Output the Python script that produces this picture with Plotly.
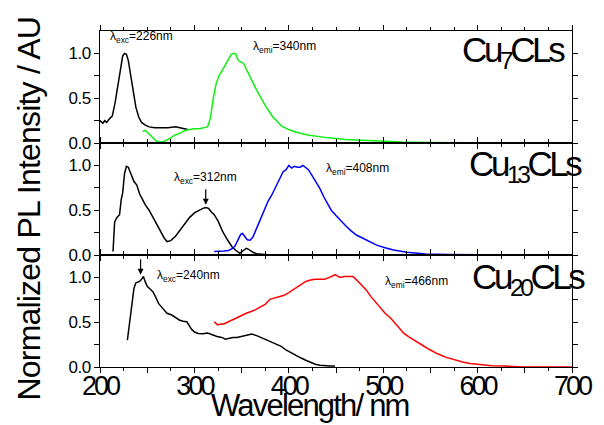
import plotly.graph_objects as go

# ---------------- data ----------------
cu7_exc_wl = [200, 203, 205, 207, 210, 213, 216, 219, 222, 224, 226, 228, 230, 232, 234, 236, 238, 241, 244, 248, 252, 258, 265, 272, 280, 286, 290, 293]
cu7_exc = [0.25, 0.22, 0.25, 0.23, 0.27, 0.30, 0.45, 0.65, 0.88, 0.97, 1.0, 0.99, 0.92, 0.78, 0.63, 0.50, 0.40, 0.29, 0.23, 0.20, 0.18, 0.17, 0.17, 0.17, 0.18, 0.17, 0.16, 0.15]

cu7_emi_wl = [245, 248, 252, 256, 260, 264, 268, 272, 276, 280, 285, 290, 295, 300, 305, 310, 314, 317, 320, 323, 326, 330, 333, 336, 339, 342, 344, 346, 348, 352, 356, 360, 364, 368, 372, 376, 380, 383, 387, 392, 400, 408, 420, 440, 460, 476, 500, 520, 550, 600, 650, 700]
cu7_emi = [0.13, 0.14, 0.10, 0.06, 0.02, 0.01, 0.02, 0.04, 0.07, 0.09, 0.11, 0.14, 0.15, 0.16, 0.16, 0.17, 0.18, 0.28, 0.50, 0.66, 0.75, 0.82, 0.88, 0.94, 0.99, 1.0, 0.99, 0.93, 0.91, 0.89, 0.80, 0.71, 0.63, 0.55, 0.47, 0.40, 0.34, 0.29, 0.25, 0.19, 0.15, 0.12, 0.09, 0.06, 0.04, 0.03, 0.015, 0.01, 0.005, 0.0, 0.0, 0.0]

cu13_exc_wl = [213.8, 215.5, 218, 220.7, 222.5, 224, 226, 228, 230, 233, 236, 239, 242, 245, 248, 252, 256, 260, 264, 268, 271, 275, 280, 285, 290, 295, 300, 305, 309, 312, 315, 318, 321, 325, 330, 335, 340, 344, 348, 352, 355, 358, 362, 366, 372, 380, 390, 397]
cu13_exc = [0.04, 0.37, 0.42, 0.45, 0.62, 0.69, 0.91, 0.99, 0.98, 0.90, 0.82, 0.78, 0.68, 0.62, 0.56, 0.50, 0.42, 0.35, 0.27, 0.19, 0.15, 0.16, 0.21, 0.28, 0.355, 0.42, 0.47, 0.50, 0.52, 0.53, 0.52, 0.48, 0.45, 0.38, 0.26, 0.17, 0.09, 0.05, 0.02, 0.05, 0.075, 0.06, 0.03, 0.015, 0.005, 0.0, 0.0, 0.0]

cu13_emi_wl = [321, 326, 331, 336, 340, 343, 346, 349, 351, 353, 356, 359, 362, 366, 370, 374, 378, 382, 386, 390, 394, 397, 400, 403, 406, 409, 412, 415, 418, 421, 425, 429, 433, 437, 441, 445, 450, 455, 460, 466, 472, 478, 485, 493, 502, 511, 525, 545, 570, 600, 650, 700]
cu13_emi = [0.04, 0.04, 0.045, 0.05, 0.07, 0.10, 0.17, 0.23, 0.24, 0.21, 0.17, 0.165, 0.20, 0.30, 0.40, 0.50, 0.60, 0.67, 0.76, 0.84, 0.93, 0.95, 1.0, 0.97, 0.99, 0.98, 0.98, 1.0, 0.97, 0.95, 0.88, 0.81, 0.74, 0.65, 0.58, 0.50, 0.44, 0.38, 0.33, 0.27, 0.22, 0.19, 0.15, 0.11, 0.08, 0.056, 0.03, 0.01, 0.005, 0.0, 0.0, 0.0]

cu20_exc_wl = [229, 232, 234.5, 236, 238, 240, 242, 244, 246, 248, 250, 253, 256, 259, 262, 266, 271, 276, 280, 284, 288, 292, 297, 300, 304, 309, 314, 319, 324, 329, 333, 337, 341, 345, 350, 355, 361, 366, 373, 380, 387, 392, 397, 402, 408, 413, 418, 423, 428, 433, 439, 444, 449]
cu20_exc = [0.30, 0.55, 0.75, 0.88, 0.94, 0.95, 0.955, 0.98, 1.01, 0.95, 0.90, 0.87, 0.84, 0.78, 0.71, 0.66, 0.60, 0.58, 0.55, 0.525, 0.51, 0.505, 0.42, 0.39, 0.375, 0.37, 0.38, 0.36, 0.34, 0.33, 0.31, 0.32, 0.33, 0.33, 0.34, 0.35, 0.367, 0.35, 0.32, 0.29, 0.26, 0.23, 0.19, 0.16, 0.13, 0.10, 0.075, 0.05, 0.03, 0.02, 0.01, 0.01, 0.01]

cu20_emi_wl = [321, 324.5, 328, 331, 335, 340, 345, 350, 355, 360, 365, 370, 375, 380, 385, 390, 395, 400, 404, 408, 413, 418, 423, 428, 433, 438, 443, 449, 454, 459, 464, 468, 472, 477, 482, 487, 492, 497, 502, 508, 515, 522, 528, 535, 542, 549, 557, 566, 575, 584, 592, 601, 615, 629, 649, 670, 700]
cu20_emi = [0.505, 0.47, 0.48, 0.48, 0.50, 0.525, 0.55, 0.58, 0.60, 0.62, 0.64, 0.67, 0.70, 0.755, 0.77, 0.785, 0.80, 0.83, 0.86, 0.88, 0.92, 0.955, 0.97, 0.98, 0.98, 0.98, 1.0, 1.03, 1.0, 1.01, 1.01, 1.01, 0.97, 0.92, 0.86, 0.785, 0.72, 0.655, 0.60, 0.545, 0.46, 0.375, 0.33, 0.28, 0.24, 0.195, 0.15, 0.11, 0.08, 0.056, 0.04, 0.03, 0.015, 0.01, 0.0, 0.0, 0.0]

x_tick_vals = [200, 250, 300, 350, 400, 450, 500, 550, 600, 650, 700]
x_tick_text = ["200", "", "300", "", "400", "", "500", "", "600", "", "700"]
y_tick_vals = [0, 0.25, 0.5, 0.75, 1.0]
y_tick_text = ["0.0", "", "0.5", "", "1.0"]

panel_names = [("Cu", "7", "CLs"), ("Cu", "13", "CLs"), ("Cu", "20", "CLs")]
exc_labels = [("exc", "=226nm"), ("exc", "=312nm"), ("exc", "=240nm")]
emi_labels = [("emi", "=340nm"), ("emi", "=408nm"), ("emi", "=466nm")]
arrow_x = [None, 312, 243]
arrow_y = [None, 0.56, 1.03]
x_title = "Wavelength/ nm"
y_title = "Normalized PL Intensity / AU"

# ---------------- figure ----------------
FONT = "Liberation Sans, Arial, sans-serif"
W, H = 604, 425
L, R, T, B = 100, 22, 31, 58          # plot area x 100-582, y 31-367
PW, PH = W - L - R, H - T - B


def tight(s, ls):
    return f'<span style="letter-spacing:{ls}px">{s}</span>'


fig = go.Figure()
series = [
    (cu7_exc_wl, cu7_exc, "black", 1), (cu7_emi_wl, cu7_emi, "#11ee11", 1),
    (cu13_exc_wl, cu13_exc, "black", 2), (cu13_emi_wl, cu13_emi, "#0000ff", 2),
    (cu20_exc_wl, cu20_exc, "black", 3), (cu20_emi_wl, cu20_emi, "#ff0000", 3),
]
for xs, ys, col, p in series:
    fig.add_trace(go.Scatter(
        x=xs, y=ys, mode="lines", line=dict(color=col, width=1.5),
        xaxis="x" if p == 1 else f"x{p}", yaxis="y" if p == 1 else f"y{p}",
        showlegend=False, hoverinfo="skip"))

domains = [[2/3, 1.0], [1/3, 2/3], [0.0, 1/3]]
for i in range(3):
    p = i + 1
    xa = "xaxis" if p == 1 else f"xaxis{p}"
    ya = "yaxis" if p == 1 else f"yaxis{p}"
    fig.layout[xa] = dict(
        domain=[0, 1], anchor="y" if p == 1 else f"y{p}", range=[200, 700],
        tickmode="array", tickvals=x_tick_vals,
        ticktext=[tight(t, -3) if t else "" for t in x_tick_text],
        showticklabels=(p == 3), ticks="outside", ticklen=5, tickwidth=1,
        tickcolor="black", showline=True, linecolor="black", linewidth=1,
        mirror="ticks", showgrid=False, zeroline=False, ticklabelstandoff=-10,
        minor=dict(dtick=25, ticks="outside", ticklen=3, tickcolor="black", showgrid=False),
        tickfont=dict(family=FONT, size=27, color="black"),
        matches=None if p == 1 else "x")
    fig.layout[ya] = dict(
        domain=domains[i], anchor="x" if p == 1 else f"x{p}", range=[0, 1.25],
        tickmode="array", tickvals=y_tick_vals,
        ticktext=[tight(t, -0.5) if t else "" for t in y_tick_text],
        ticks="outside", ticklen=5, tickwidth=1, tickcolor="black",
        showline=True, linecolor="black", linewidth=1, mirror="ticks",
        showgrid=False, zeroline=False,
        tickfont=dict(family=FONT, size=17, color="black"))

ann = []
exc_px = [(108, 37), (174, 178), (156, 276)]
emi_px = [(254, 47), (329, 169), (389, 282)]
name_px = [(522, 52), (535, 166), (538, 279)]
for i in range(3):
    p = i + 1
    xr = "x" if p == 1 else f"x{p}"
    yr = "y" if p == 1 else f"y{p}"
    plot_top = [31, 143, 255][i]

    def tody(py, top=plot_top):
        return 1.25 - (py - top) / 112.0 * 1.25

    def todx(px):
        return 200 + (px - 100) / 482.0 * 500

    sub, rest = exc_labels[i]
    ann.append(dict(x=todx(exc_px[i][0]), y=tody(exc_px[i][1]), xref=xr, yref=yr,
                    text=f"λ<sub>{sub}</sub>{rest}", showarrow=False,
                    xanchor="left", yanchor="middle",
                    font=dict(family=FONT, size=12, color="black")))
    sub, rest = emi_labels[i]
    ann.append(dict(x=todx(emi_px[i][0]), y=tody(emi_px[i][1]), xref=xr, yref=yr,
                    text=f"λ<sub>{sub}</sub>{rest}", showarrow=False,
                    xanchor="left", yanchor="middle",
                    font=dict(family=FONT, size=12, color="black")))
    a, b, c = panel_names[i]
    ann.append(dict(x=todx(name_px[i][0]), y=tody(name_px[i][1]), xref=xr, yref=yr,
                    text=tight(f"{a}<sub>{b}</sub>{c}", -3.4), showarrow=False,
                    xanchor="center", yanchor="middle",
                    font=dict(family=FONT, size=35, color="black")))
    if arrow_x[i] is not None:
        ann.append(dict(x=arrow_x[i], y=arrow_y[i], xref=xr, yref=yr, text="",
                        showarrow=True, ax=0, ay=-17, arrowhead=2, arrowsize=1,
                        arrowwidth=1.2, arrowcolor="black"))

ann.append(dict(x=(314 - L) / PW, y=(H - B - 405) / PH, xref="paper", yref="paper",
                text=tight(x_title, -1.8), showarrow=False, xanchor="center", yanchor="middle",
                font=dict(family=FONT, size=31, color="black")))
ann.append(dict(x=(27 - L) / PW, y=(H - B - 209) / PH, xref="paper", yref="paper",
                text=tight(y_title, -0.8), showarrow=False, textangle=-90,
                xanchor="center", yanchor="middle",
                font=dict(family=FONT, size=32, color="black")))

fig.update_layout(
    width=W, height=H, margin=dict(l=L, r=R, t=T, b=B),
    paper_bgcolor="white", plot_bgcolor="white", annotations=ann,
    font=dict(family=FONT, color="black"))

fig.write_html("out.html", config={"displayModeBar": False},
               post_script="document.body.style.margin='0';document.body.style.overflow='hidden';")
